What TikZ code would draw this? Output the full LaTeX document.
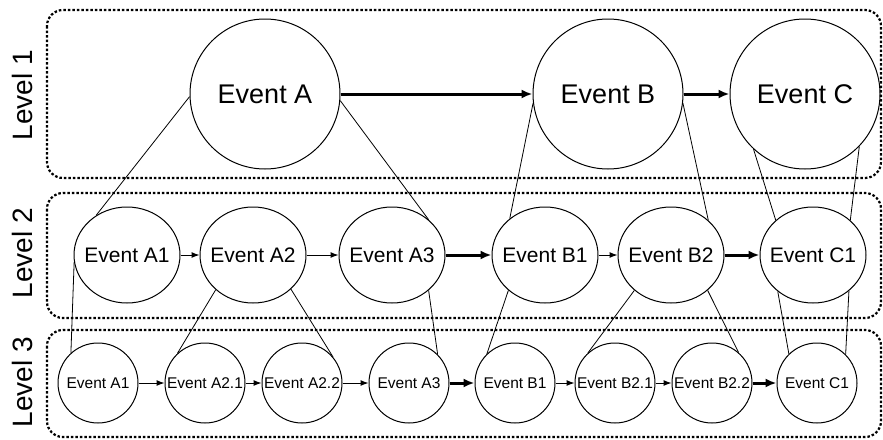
\documentclass[tikz,border=0pt]{standalone}
\usepackage{fontspec}
\setmainfont{Liberation Sans}
\usetikzlibrary{arrows.meta,shapes.geometric}

\begin{document}
\begin{tikzpicture}[x=1pt, y=-1pt,
    lvl/.style={draw, line width=2.2pt, dash pattern=on 2.5pt off 2pt, rounded corners=16pt},
    tag/.style={rotate=90, font=\fontsize{28}{30}\selectfont},
    big/.style={draw, circle, line width=1pt, minimum size=150pt, inner sep=0pt, font=\fontsize{27}{30}\selectfont},
    mid/.style={draw, ellipse, line width=1pt, minimum width=106pt, minimum height=96pt, inner ysep=0pt, inner xsep=-15pt, font=\fontsize{21}{24}\selectfont},
    small/.style={draw, circle, line width=1pt, minimum size=80pt, inner sep=0pt, font=\fontsize{15.5}{18}\selectfont},
    thin/.style={line width=1pt, -{Latex[length=8pt,width=6pt]}},
    thick/.style={line width=3pt, -{Latex[length=11pt,width=9pt]}},
    link/.style={line width=0.8pt}]
                \useasboundingbox (0,0) rectangle (883,439);

                % the three levels
                \draw[lvl] (47,10) rectangle (881,178);
                \draw[lvl] (47,193) rectangle (881,318);
                \draw[lvl] (47,330) rectangle (881,437);
                \node[tag] (L1) at (22,95) {Level 1};
                \node[tag] (L2) at (22,253) {Level 2};
                \node[tag] (L3) at (22,382) {Level 3};

                % level 1
                \node[big] (A) at (265,94) {Event A};
                \node[big] (B) at (608,94) {Event B};
                \node[big] (C) at (805,94) {Event C};

                % level 2
                \node[mid] (A1) at (127,255) {Event A1};
                \node[mid] (A2) at (253,255) {Event A2};
                \node[mid] (A3) at (392,255) {Event A3};
                \node[mid] (B1) at (545,255) {Event B1};
                \node[mid] (B2) at (671,255) {Event B2};
                \node[mid] (C1) at (813,255) {Event C1};

                % level 3
                \node[small] (a1) at (98,383) {Event A1};
                \node[small] (a21) at (205,383) {Event A2.1};
                \node[small] (a22) at (302,383) {Event A2.2};
                \node[small] (a3) at (409,383) {Event A3};
                \node[small] (b1) at (515,383) {Event B1};
                \node[small] (b21) at (615,383) {Event B2.1};
                \node[small] (b22) at (712,383) {Event B2.2};
                \node[small] (c1) at (817,383) {Event C1};

                \draw[thick] (A) -- (B);
                \draw[thick] (B) -- (C);

                \draw[thin] (A1) -- (A2);
                \draw[thin] (A2) -- (A3);
                \draw[thick] (A3) -- (B1);
                \draw[thin] (B1) -- (B2);
                \draw[thick] (B2) -- (C1);

                \draw[thin] (a1) -- (a21);
                \draw[thin] (a21) -- (a22);
                \draw[thin] (a22) -- (a3);
                \draw[thick] (a3) -- (b1);
                \draw[thin] (b1) -- (b21);
                \draw[thin] (b21) -- (b22);
                \draw[thick] (b22) -- (c1);

                % level 1 to level 2
                \draw[link] (A.182) -- (A1.128);
                \draw[link] (A.355) -- (A3.44);
                \draw[link] (B.187) -- (B1.134);
                \draw[link] (B.353) -- (B2.43);
                \draw[link] (C.227) -- (C1.137);
                \draw[link] (C.316) -- (C1.43);

                % level 2 to level 3
                \draw[link] (A1.188) -- (a1.132);
                \draw[link] (A2.223) -- (a21.133);
                \draw[link] (A2.318) -- (a22.40);
                \draw[link] (A3.316) -- (a3.45);
                \draw[link] (B1.224) -- (b1.134);
                \draw[link] (B2.224) -- (b21.132);
                \draw[link] (B2.316) -- (b22.49);
                \draw[link] (C1.226) -- (c1.134);
                \draw[link] (C1.315) -- (c1.45);
            \end{tikzpicture}
\end{document}
